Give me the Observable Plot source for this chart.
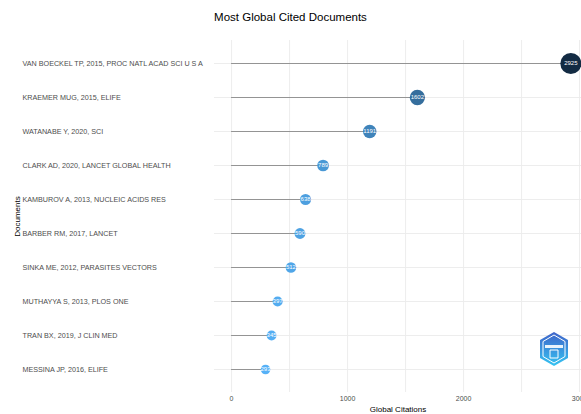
<!DOCTYPE html>
<html>
<head>
<meta charset="utf-8">
<script src="https://cdn.jsdelivr.net/npm/d3@7"></script>
<script src="https://cdn.jsdelivr.net/npm/@observablehq/plot@0.6"></script>
<style>
  body { margin: 0; background: white; font-family: "Liberation Sans", Arial, sans-serif; }
  #wrap { position: relative; width: 581px; height: 414px; overflow: hidden; }
  #title { box-sizing: border-box; height: 30px; padding-top: 10px; font-size: 11.5px; line-height: 14px; text-align: center; color: #000; }
  #chart svg { display: block; }
  #logo { position: absolute; left: 538px; top: 331px; }
</style>
</head>
<body>
<div id="wrap">
  <div id="title">Most Global Cited Documents</div>
  <div id="chart"></div>
  <svg id="logo" width="32" height="36" viewBox="0 0 32 36">
    <defs>
      <linearGradient id="lg" x1="0" y1="0" x2="0" y2="1">
        <stop offset="0" stop-color="#3f63c9"/>
        <stop offset="1" stop-color="#35c4f2"/>
      </linearGradient>
    </defs>
    <polygon points="16,1 30,9 30,27 16,35 2,27 2,9" fill="url(#lg)"/>
    <polygon points="16,4 27,10.5 27,25.5 16,32 5,25.5 5,10.5" fill="none" stroke="white" stroke-width="1"/>
    <rect x="7" y="14" width="18" height="3" fill="white" opacity="0.9"/>
    <path d="M12 19 h8 v8 h-8 z" fill="none" stroke="white" stroke-width="1"/>
  </svg>
</div>
<script>
const docs = [
  "VAN BOECKEL TP, 2015, PROC NATL ACAD SCI U S A",
  "KRAEMER MUG, 2015, ELIFE",
  "WATANABE Y, 2020, SCI",
  "CLARK AD, 2020, LANCET GLOBAL HEALTH",
  "KAMBUROV A, 2013, NUCLEIC ACIDS RES",
  "BARBER RM, 2017, LANCET",
  "SINKA ME, 2012, PARASITES VECTORS",
  "MUTHAYYA S, 2013, PLOS ONE",
  "TRAN BX, 2019, J CLIN MED",
  "MESSINA JP, 2016, ELIFE"
];
const citations = [2925, 1602, 1191, 789, 638, 590, 512, 397, 345, 293];
const xTicks = [0, 1000, 2000, 3000];
const gridTicks = [0, 500, 1000, 1500, 2000, 2500, 3000];

const data = docs.map((d, i) => ({doc: d, tc: citations[i]}));
const lo = d3.min(citations), hi = d3.max(citations);

const chart = Plot.plot({
  width: 581,
  height: 384,
  marginLeft: 214,
  marginRight: 0,
  marginTop: 10,
  marginBottom: 22,
  style: {fontFamily: "Liberation Sans, Arial, sans-serif", background: "white", overflow: "visible"},
  x: {domain: [-147, 3017], label: null},
  y: {type: "point", domain: docs, padding: 0.6, label: null},
  color: {type: "linear", domain: [lo, hi], range: ["#56B1F7", "#132B43"]},
  r: {type: "linear", domain: [lo, hi], range: [4.8, 10.5]},
  marks: [
    Plot.gridX(gridTicks, {stroke: "#ebebeb", strokeOpacity: 1, strokeWidth: 0.9}),
    Plot.gridY({stroke: "#ebebeb", strokeOpacity: 1, strokeWidth: 0.9}),
    Plot.ruleY(data, {y: "doc", x1: 0, x2: "tc", stroke: "#8a8a8a", strokeWidth: 0.9}),
    Plot.dot(data, {x: "tc", y: "doc", r: "tc", fill: "tc"}),
    Plot.text(data, {x: "tc", y: "doc", text: d => String(d.tc), fill: "white", fontSize: 6}),
    Plot.axisX(xTicks, {tickSize: 0, tickPadding: 4, fontSize: 7, fill: "#4d4d4d", tickFormat: d => String(d), label: null}),
    Plot.axisY({tickSize: 0, tickPadding: 192, textAnchor: "start", fontSize: 7.2, fill: "#4d4d4d", label: null}),
    Plot.text(["Global Citations"], {frameAnchor: "bottom", lineAnchor: "middle", dy: 16.5, fontSize: 8, fill: "#000"}),
    Plot.text(["Documents"], {frameAnchor: "left", textAnchor: "middle", rotate: -90, dx: -197, fontSize: 8, fill: "#000"})
  ]
});
document.getElementById("chart").appendChild(chart);
</script>
</body>
</html>
